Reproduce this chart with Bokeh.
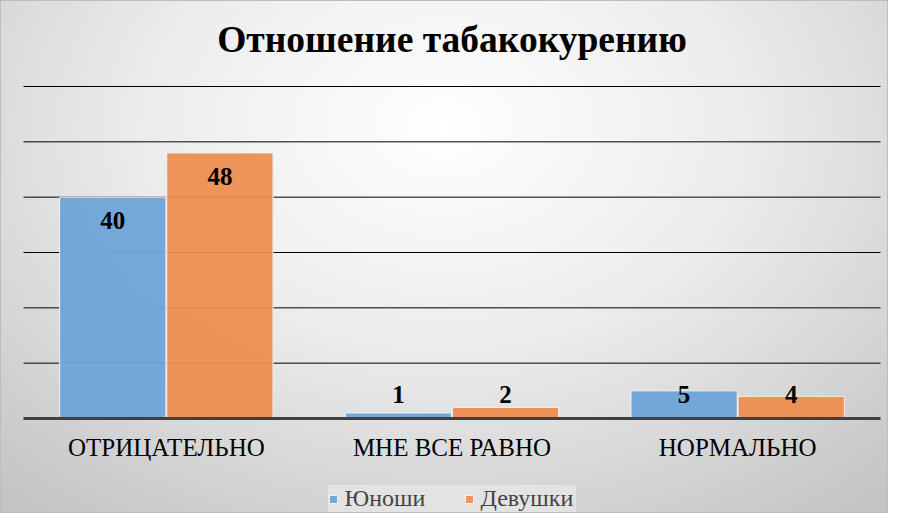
import numpy as np
from bokeh.plotting import figure
from bokeh.models import ColumnDataSource, Legend, LegendItem, FactorRange
from bokeh.transform import dodge
from bokeh.core.properties import value
from bokeh.embed import file_html
from bokeh.resources import INLINE

title_text = "Отношение табакокурению"
categories = ["ОТРИЦАТЕЛЬНО", "МНЕ ВСЕ РАВНО", "НОРМАЛЬНО"]
boys = [40, 1, 5]
girls = [48, 2, 4]
series_names = ["Юноши", "Девушки"]
grid_ticks = [10, 20, 30, 40, 50, 60]

BLUE = "#6FA5D7"
ORANGE = "#EC8D4E"
SERIF = "Liberation Serif"

# frame spans the full canvas height; value axis 0..60 occupies 332 px, baseline at y=418 px
PX_PER_UNIT = 332 / 60.0
BASE_PX = 418
H = 513
y_lo = -(H - BASE_PX) / PX_PER_UNIT
y_hi = BASE_PX / PX_PER_UNIT

p = figure(x_range=FactorRange(*categories), y_range=(y_lo, y_hi),
           frame_width=873, frame_height=H,
           x_axis_location=None, y_axis_location=None,
           output_backend="svg", toolbar_location=None,
           min_border_left=15, min_border_right=0, min_border_top=0, min_border_bottom=0)
p.x_range.range_padding = 8 / (857 / 3.0)
p.x_range.range_padding_units = "absolute"
p.xgrid.visible = False
p.ygrid.visible = False

p.styles = {"background-image": "radial-gradient(ellipse 75% 95% at 50% 25%, #ffffff 0%, #ececec 45%, #c4c4c4 100%)",
            "box-shadow": "inset 0 0 0 1px #bdbdbd"}
p.border_fill_color = None
p.background_fill_color = None
p.outline_line_color = None

# title
p.text(x=[categories[1]], y=[(BASE_PX - 38.5) / PX_PER_UNIT], text=[title_text],
       text_align="center", text_baseline="middle",
       text_font=value(SERIF), text_font_size="37.5px", text_font_style="bold",
       text_color="black")

# horizontal gridlines across the category span
n = len(grid_ticks)
grid_src = ColumnDataSource(dict(y=grid_ticks, c0=[categories[0]] * n, c1=[categories[-1]] * n))
p.segment(x0=dodge("c0", -0.5, range=p.x_range), y0="y",
          x1=dodge("c1", 0.5, range=p.x_range), y1="y",
          source=grid_src, line_color="black", line_width=1)

src = ColumnDataSource(dict(
    cat=categories, boys=boys, girls=girls,
    boys_lab=[str(v) for v in boys], girls_lab=[str(v) for v in girls],
    boys_y=np.maximum(np.array(boys) - 4.3, 4.3),
    girls_y=np.maximum(np.array(girls) - 4.3, 4.3),
))

off = 0.1875
wid = 0.372
r1 = p.vbar(x=dodge("cat", -off, range=p.x_range), top="boys", bottom=0, width=wid, source=src,
            fill_color=BLUE, line_color="#f2f2f2", line_width=1, fill_alpha=0.97)
r2 = p.vbar(x=dodge("cat", off, range=p.x_range), top="girls", bottom=0, width=wid, source=src,
            fill_color=ORANGE, line_color="#f2f2f2", line_width=1, fill_alpha=0.93)

# category axis line at value 0
base_src = ColumnDataSource(dict(y=[0], c0=[categories[0]], c1=[categories[-1]]))
p.segment(x0=dodge("c0", -0.5, range=p.x_range), y0="y",
          x1=dodge("c1", 0.5, range=p.x_range), y1="y",
          source=base_src, line_color="#404040", line_width=3)

# data labels
for col, ycol, sh in (("boys_lab", "boys_y", -off), ("girls_lab", "girls_y", off)):
    p.text(x=dodge("cat", sh, range=p.x_range), y=ycol, text=col, source=src,
           text_align="center", text_baseline="middle",
           text_font=value(SERIF), text_font_size="25px",
           text_font_style="bold", text_color="black")

# category labels
cat_src = ColumnDataSource(dict(cat=categories, y=[-29 / PX_PER_UNIT] * len(categories)))
p.text(x="cat", y="y", text="cat", source=cat_src,
       text_align="center", text_baseline="middle",
       text_font=value(SERIF), text_font_size="25px", text_color="black")

legend = Legend(items=[LegendItem(label=series_names[0], renderers=[r1]),
                       LegendItem(label=series_names[1], renderers=[r2])],
                orientation="horizontal", location="bottom_center",
                label_text_font=SERIF, label_text_font_size="24px",
                glyph_width=10, glyph_height=10, label_standoff=7, spacing=24,
                label_width=95, padding=8, margin=1,
                background_fill_color="#e4e4e4", background_fill_alpha=0.95,
                border_line_color=None)
p.add_layout(legend)

open("out.html", "w").write(file_html(p, INLINE))
